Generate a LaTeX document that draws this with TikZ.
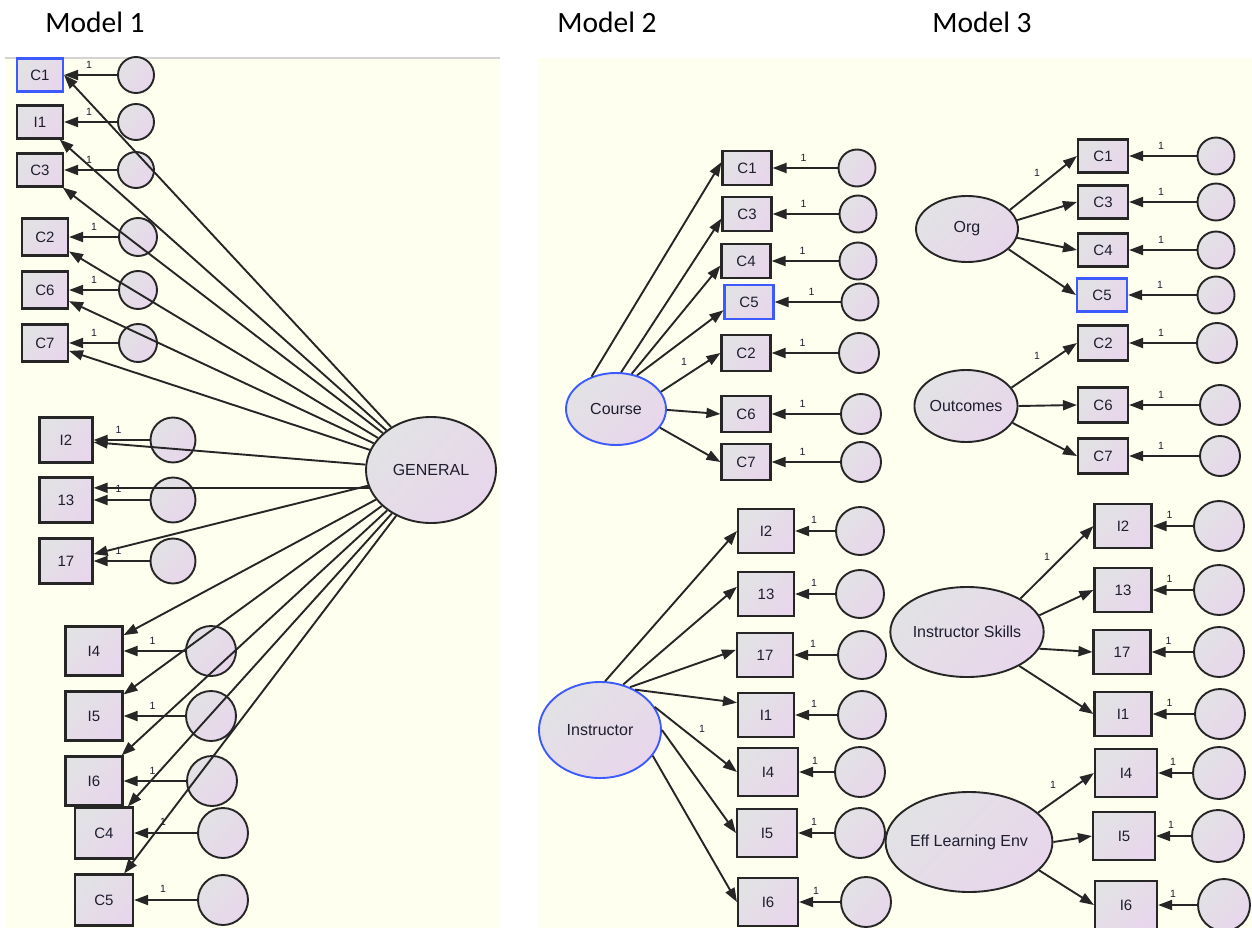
\documentclass[tikz,border=0pt]{standalone}
\usepackage{fontspec}
\setmainfont{Liberation Sans}
\newfontfamily\titlefont{Carlito}
\usetikzlibrary{shapes.geometric,arrows.meta}
\definecolor{bgc}{HTML}{FFFFF0}
\definecolor{gA}{HTML}{E2E2E4}
\definecolor{gB}{HTML}{E8D6EC}
\definecolor{bd}{HTML}{262626}
\definecolor{bluec}{HTML}{3D5AFE}
\definecolor{txt}{HTML}{1E1E30}
\definecolor{topline}{HTML}{D4D4D4}
\tikzset{
  shd/.style={top color=gA, bottom color=gB, shading angle=45},
  sz/.style 2 args={minimum width=#1, minimum height=#2},
  obs/.style={rectangle, draw=bd, line width=2.1pt, shd, font=\fontsize{15}{15}\selectfont, text=txt, inner sep=0pt},
  err/.style={circle, draw=bd, line width=1.9pt, shd, inner sep=0pt, minimum size=#1},
  lat/.style={ellipse, draw=bd, line width=1.9pt, shd, font=\fontsize{16}{16}\selectfont, text=txt, inner sep=0pt},
  hl/.style={draw=bluec},
  arr/.style={draw=bd, line width=1.9pt, -{Triangle[length=14pt,width=10pt]}},
  one/.style={font=\fontsize{10.5}{10.5}\selectfont, text=txt, inner sep=0pt},
  ttl/.style={font=\titlefont\fontsize{29.5}{29.5}\selectfont, text=black, anchor=base},
}
\begin{document}
\begin{tikzpicture}[x=1pt,y=1pt]
\useasboundingbox (0,0) rectangle (1252,-928);
\fill[white] (0,0) rectangle (1252,-928);
\fill[bgc] (5,-58) rectangle (500,-928);
\fill[bgc] (537,-58) rectangle (1252,-928);
\draw[topline, line width=2pt] (5,-58) -- (500,-58);

% titles
\node[ttl] (t1) at (95,-33) {Model 1};
\node[ttl] (t2) at (607,-33) {Model 2};
\node[ttl] (t3) at (982,-33) {Model 3};

% ================= Model 1 =================
\node[obs, sz={46pt}{33pt}, hl] (aC1) at (40,-75) {C1};
\node[obs, sz={46pt}{33pt}] (aI1) at (40,-122) {I1};
\node[obs, sz={46pt}{33pt}] (aC3) at (40,-170) {C3};
\node[obs, sz={46pt}{37pt}] (aC2) at (45,-237) {C2};
\node[obs, sz={46pt}{37pt}] (aC6) at (45,-290) {C6};
\node[obs, sz={46pt}{37pt}] (aC7) at (45,-343) {C7};
\node[obs, sz={53pt}{45pt}] (aI2) at (66,-440) {I2};
\node[obs, sz={53pt}{45pt}] (a13) at (66,-500) {13};
\node[obs, sz={53pt}{45pt}] (a17) at (66,-561) {17};
\node[obs, sz={57pt}{49pt}] (aI4) at (94,-651) {I4};
\node[obs, sz={57pt}{49pt}] (aI5) at (94,-716) {I5};
\node[obs, sz={57pt}{49pt}] (aI6) at (94,-781) {I6};
\node[obs, sz={58pt}{51pt}] (aC4) at (104,-833) {C4};
\node[obs, sz={58pt}{51pt}] (aC5) at (104,-900) {C5};

\node[err=36pt] (aeC1) at (136,-75) {};
\node[err=36pt] (aeI1) at (136,-122) {};
\node[err=36pt] (aeC3) at (136,-170) {};
\node[err=38pt] (aeC2) at (138,-237) {};
\node[err=38pt] (aeC6) at (138,-290) {};
\node[err=38pt] (aeC7) at (138,-343) {};
\node[err=45pt] (aeI2) at (173,-440) {};
\node[err=45pt] (ae13) at (173,-500) {};
\node[err=45pt] (ae17) at (173,-561) {};
\node[err=50pt] (aeI4) at (211,-651) {};
\node[err=50pt] (aeI5) at (211,-716) {};
\node[err=50pt] (aeI6) at (212,-781) {};
\node[err=50pt] (aeC4) at (223,-833) {};
\node[err=50pt] (aeC5) at (223,-900) {};

\node[lat, sz={130pt}{106pt}] (aG) at (431,-470) {GENERAL};

\draw[arr] (aeC1) -- (aC1) node[one,pos=1,xshift=25pt,yshift=10pt] {1};
\draw[arr] (aeI1) -- (aI1) node[one,pos=1,xshift=25pt,yshift=10pt] {1};
\draw[arr] (aeC3) -- (aC3) node[one,pos=1,xshift=25pt,yshift=10pt] {1};
\draw[arr] (aeC2) -- (aC2) node[one,pos=1,xshift=25pt,yshift=10pt] {1};
\draw[arr] (aeC6) -- (aC6) node[one,pos=1,xshift=25pt,yshift=10pt] {1};
\draw[arr] (aeC7) -- (aC7) node[one,pos=1,xshift=25pt,yshift=10pt] {1};
\draw[arr] (aeI2) -- (aI2) node[one,pos=1,xshift=25pt,yshift=10pt] {1};
\draw[arr] (ae13) -- (a13) node[one,pos=1,xshift=25pt,yshift=11pt] {1};
\draw[arr] (ae17) -- (a17) node[one,pos=1,xshift=25pt,yshift=10pt] {1};
\draw[arr] (aeI4) -- (aI4) node[one,pos=1,xshift=29pt,yshift=10pt] {1};
\draw[arr] (aeI5) -- (aI5) node[one,pos=1,xshift=29pt,yshift=10pt] {1};
\draw[arr] (aeI6) -- (aI6) node[one,pos=1,xshift=29pt,yshift=10pt] {1};
\draw[arr] (aeC4) -- (aC4) node[one,pos=1,xshift=29pt,yshift=11pt] {1};
\draw[arr] (aeC5) -- (aC5) node[one,pos=1,xshift=29pt,yshift=11pt] {1};

\draw[arr] (aG) -- (aC1.east);
\draw[arr] (aG) -- (aI1);
\draw[arr] (aG) -- (aC3);
\draw[arr] (aG) -- (aC2);
\draw[arr] (aG) -- (aC6);
\draw[arr] (aG) -- (aC7);
\draw[arr] (aG) -- (aI2);
\draw[arr] (aG.196) -- (a13.east |- aG.196);
\draw[arr] (aG) -- (a17);
\draw[arr] (aG) -- (aI4);
\draw[arr] (aG) -- (aI5);
\draw[arr] (aG) -- (aI6);
\draw[arr] (aG) -- (aC4);
\draw[arr] (aG) -- (aC5);

% ================= Model 2 =================
\node[obs, sz={49pt}{34pt}] (bC1) at (747,-168) {C1};
\node[obs, sz={49pt}{34pt}] (bC3) at (747,-214) {C3};
\node[obs, sz={49pt}{34pt}] (bC4) at (746,-261) {C4};
\node[obs, sz={49pt}{34pt}, hl] (bC5) at (749,-302) {C5};
\node[obs, sz={49pt}{36pt}] (bC2) at (746,-353) {C2};
\node[obs, sz={49pt}{36pt}] (bC6) at (746,-414) {C6};
\node[obs, sz={49pt}{36pt}] (bC7) at (746,-462) {C7};
\node[err=37pt] (beC1) at (857,-168) {};
\node[err=37pt] (beC3) at (858,-214) {};
\node[err=37pt] (beC4) at (858,-261) {};
\node[err=37pt] (beC5) at (860,-302) {};
\node[err=40pt] (beC2) at (859,-353) {};
\node[err=40pt] (beC6) at (861,-414) {};
\node[err=40pt] (beC7) at (861,-462) {};
\node[lat, sz={100pt}{72pt}, hl] (bCo) at (616,-409) {Course};

\node[obs, sz={56pt}{44pt}] (bI2) at (766,-531) {I2};
\node[obs, sz={56pt}{44pt}] (b13) at (766,-594) {13};
\node[obs, sz={56pt}{44pt}] (b17) at (765,-655) {17};
\node[obs, sz={56pt}{44pt}] (bI1) at (766,-715) {I1};
\node[obs, sz={60pt}{48pt}] (bI4) at (768,-772) {I4};
\node[obs, sz={60pt}{48pt}] (bI5) at (767,-833) {I5};
\node[obs, sz={60pt}{48pt}] (bI6) at (768,-902) {I6};
\node[err=48pt] (beI2) at (860,-531) {};
\node[err=48pt] (be13) at (860,-594) {};
\node[err=48pt] (be17) at (862,-655) {};
\node[err=48pt] (beI1) at (862,-715) {};
\node[err=50pt] (beI4) at (860,-772) {};
\node[err=50pt] (beI5) at (860,-833) {};
\node[err=50pt] (beI6) at (866,-902) {};
\node[lat, sz={122pt}{96pt}, hl] (bIn) at (600,-730) {Instructor};

\draw[arr] (beC1) -- (bC1) node[one,pos=1,xshift=31pt,yshift=10pt] {1};
\draw[arr] (beC3) -- (bC3) node[one,pos=1,xshift=31pt,yshift=10pt] {1};
\draw[arr] (beC4) -- (bC4) node[one,pos=1,xshift=31pt,yshift=10pt] {1};
\draw[arr] (beC5) -- (bC5) node[one,pos=1,xshift=37pt,yshift=10pt] {1};
\draw[arr] (beC2) -- (bC2) node[one,pos=1,xshift=31pt,yshift=10pt] {1};
\draw[arr] (beC6) -- (bC6) node[one,pos=1,xshift=31pt,yshift=10pt] {1};
\draw[arr] (beC7) -- (bC7) node[one,pos=1,xshift=31pt,yshift=10pt] {1};
\draw[arr] (beI2) -- (bI2) node[one,pos=1,xshift=19pt,yshift=11pt] {1};
\draw[arr] (be13) -- (b13) node[one,pos=1,xshift=19pt,yshift=11pt] {1};
\draw[arr] (be17) -- (b17) node[one,pos=1,xshift=19pt,yshift=11pt] {1};
\draw[arr] (beI1) -- (bI1) node[one,pos=1,xshift=19pt,yshift=11pt] {1};
\draw[arr] (beI4) -- (bI4) node[one,pos=1,xshift=16pt,yshift=11pt] {1};
\draw[arr] (beI5) -- (bI5) node[one,pos=1,xshift=16pt,yshift=11pt] {1};
\draw[arr] (beI6) -- (bI6) node[one,pos=1,xshift=17pt,yshift=11pt] {1};

\draw[arr] (bCo.127) -- (bC1.167);
\draw[arr] (bCo.82) -- (bC3.190);
\draw[arr] (bCo.66) -- (bC4.190);
\draw[arr] (bCo.58) -- (bC5.198);
\draw[arr] (bCo.21) -- (bC2.west);
\draw[arr] (bCo.-1) -- (bC6.west);
\draw[arr] (bCo.-23) -- (bC7.west);
\node[one] (bL1) at (684,-362) {1};

\draw[arr] (bIn.84) -- (bI2.west);
\draw[arr] (bIn.63) -- (b13.166);
\draw[arr] (bIn.55) -- (b17.170);
\draw[arr] (bIn.49) -- (bI1.157);
\draw[arr] (bIn.23) -- (bI4.west);
\draw[arr] (bIn.0) -- (bI5.west);
\draw[arr] (bIn.-26) -- (bI6.west);
\node[one] (bL2) at (702,-729) {1};

% ================= Model 3 =================
\node[obs, sz={50pt}{33pt}] (cC1) at (1103,-156) {C1};
\node[obs, sz={50pt}{33pt}] (cC3) at (1103,-202) {C3};
\node[obs, sz={50pt}{33pt}] (cC4) at (1103,-250) {C4};
\node[obs, sz={50pt}{33pt}, hl] (cC5) at (1102,-295) {C5};
\node[obs, sz={50pt}{35pt}] (cC2) at (1103,-343) {C2};
\node[obs, sz={50pt}{35pt}] (cC6) at (1103,-405) {C6};
\node[obs, sz={50pt}{35pt}] (cC7) at (1103,-456) {C7};
\node[err=37pt] (ceC1) at (1216,-156) {};
\node[err=37pt] (ceC3) at (1216,-202) {};
\node[err=37pt] (ceC4) at (1216,-250) {};
\node[err=37pt] (ceC5) at (1216,-295) {};
\node[err=40pt] (ceC2) at (1217,-343) {};
\node[err=40pt] (ceC6) at (1220,-405) {};
\node[err=40pt] (ceC7) at (1220,-456) {};
\node[lat, sz={102pt}{66pt}] (cOr) at (967,-229) {Org};
\node[lat, sz={102pt}{72pt}] (cOu) at (966,-406) {Outcomes};

\node[obs, sz={57pt}{44pt}] (cI2) at (1123,-526) {I2};
\node[obs, sz={57pt}{44pt}] (c13) at (1123,-590) {13};
\node[obs, sz={57pt}{44pt}] (c17) at (1122,-652) {17};
\node[obs, sz={57pt}{44pt}] (cI1) at (1123,-714) {I1};
\node[obs, sz={62pt}{48pt}] (cI4) at (1126,-773) {I4};
\node[obs, sz={62pt}{48pt}] (cI5) at (1124,-836) {I5};
\node[obs, sz={62pt}{48pt}] (cI6) at (1126,-905) {I6};
\node[err=50pt] (ceI2) at (1219,-526) {};
\node[err=50pt] (ce13) at (1219,-590) {};
\node[err=50pt] (ce17) at (1219,-652) {};
\node[err=50pt] (ceI1) at (1220,-714) {};
\node[err=52pt] (ceI4) at (1219,-773) {};
\node[err=52pt] (ceI5) at (1218,-836) {};
\node[err=52pt] (ceI6) at (1224,-905) {};
\node[lat, sz={116pt}{90pt}] (cIS) at (967,-632) {Instructor Skills};
\node[lat, sz={124pt}{100pt}] (cEL) at (969,-842) {Eff Learning Env};

\draw[arr] (ceC1) -- (cC1) node[one,pos=1,xshift=32pt,yshift=10pt] {1};
\draw[arr] (ceC3) -- (cC3) node[one,pos=1,xshift=32pt,yshift=10pt] {1};
\draw[arr] (ceC4) -- (cC4) node[one,pos=1,xshift=32pt,yshift=10pt] {1};
\draw[arr] (ceC5) -- (cC5) node[one,pos=1,xshift=32pt,yshift=10pt] {1};
\draw[arr] (ceC2) -- (cC2) node[one,pos=1,xshift=32pt,yshift=10pt] {1};
\draw[arr] (ceC6) -- (cC6) node[one,pos=1,xshift=32pt,yshift=10pt] {1};
\draw[arr] (ceC7) -- (cC7) node[one,pos=1,xshift=32pt,yshift=10pt] {1};
\draw[arr] (ceI2) -- (cI2) node[one,pos=1,xshift=17pt,yshift=11pt] {1};
\draw[arr] (ce13) -- (c13) node[one,pos=1,xshift=17pt,yshift=11pt] {1};
\draw[arr] (ce17) -- (c17) node[one,pos=1,xshift=17pt,yshift=11pt] {1};
\draw[arr] (ceI1) -- (cI1) node[one,pos=1,xshift=17pt,yshift=11pt] {1};
\draw[arr] (ceI4) -- (cI4) node[one,pos=1,xshift=15pt,yshift=11pt] {1};
\draw[arr] (ceI5) -- (cI5) node[one,pos=1,xshift=15pt,yshift=11pt] {1};
\draw[arr] (ceI6) -- (cI6) node[one,pos=1,xshift=15pt,yshift=11pt] {1};

\draw[arr] (cOr.24) -- (cC1.west);
\draw[arr] (cOr.10) -- (cC3.west);
\draw[arr] (cOr.-10) -- (cC4.west);
\draw[arr] (cOr.-26) -- (cC5.west);
\node[one] (cL1) at (1037,-173) {1};
\draw[arr] (cOu.22) -- (cC2.west);
\draw[arr] (cOu.east) -- (cC6.west);
\draw[arr] (cOu.-20) -- (cC7.west);
\node[one] (cL2) at (1037,-356) {1};
\draw[arr] (cIS.32) -- (cI2.west);
\draw[arr] (cIS.13) -- (c13.west);
\draw[arr] (cIS.-13) -- (c17.west);
\draw[arr] (cIS.-33) -- (cI1.west);
\node[one] (cL3) at (1047,-557) {1};
\draw[arr] (cEL.23) -- (cI4.west);
\draw[arr] (cEL.east) -- (cI5.west);
\draw[arr] (cEL.-22) -- (cI6.west);
\node[one] (cL4) at (1053,-785) {1};
\end{tikzpicture}
\end{document}
